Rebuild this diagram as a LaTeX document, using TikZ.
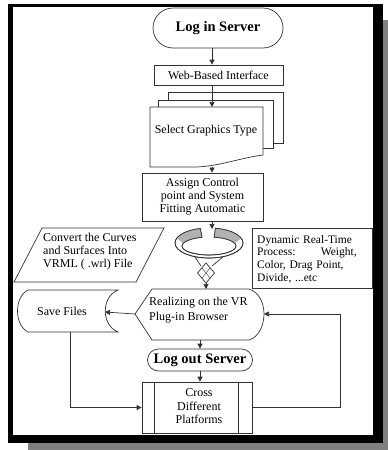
\documentclass[tikz,border=0pt]{standalone}
\usepackage{fontspec}
\setmainfont{Liberation Serif}
\usetikzlibrary{arrows.meta,calc}
\begin{document}
\begin{tikzpicture}[x=1pt,y=-1pt,
  ln/.style={draw=black!80,line width=0.7pt},
  arr/.style={ln,-{Triangle[length=5pt,width=5pt]}},
  tx/.style={font=\fontsize{12}{13}\selectfont,inner sep=0pt},
  hd/.style={font=\fontsize{14.5}{16}\selectfont\bfseries,inner sep=0pt},
  box/.style={ln,fill=white,inner sep=0pt}]
\useasboundingbox (0,0) rectangle (388,450);
% frame
\fill[black!50] (383,20) rectangle (388,450);
\fill[black!50] (28,443) rectangle (388,450);
\fill[black] (8,4) rectangle (383,7);
\fill[black] (8,4) rectangle (13,443);
\fill[black] (373,4) rectangle (383,443);
\fill[black] (8,435) rectangle (383,443);
% Log in
\node[box,rounded corners=20pt,minimum width=130pt,minimum height=40pt,hd] (login) at (218,28) {Log in Server};
\node[box,minimum width=129pt,minimum height=20pt,tx] (web) at (218.5,75) {Web-Based Interface};
% multi document
\draw[ln,fill=white] (168,92) rectangle (283,143);
\draw[ln,fill=white] (158,100) rectangle (273,148);
\draw[ln,fill=white] (150,107) -- (263,107) -- (263,155) .. controls (240,158) and (220,166) .. (197,167) -- (150,167) -- cycle;
\node[tx] (select) at (206,131) {Select Graphics Type};
\coordinate (selT) at (212,107);
\coordinate (selB) at (212,166.5);
% assign
\node[box,minimum width=121pt,minimum height=48pt,tx,align=center] (assign) at (202.5,197) {Assign Control\\point and System\\Fitting Automatic};
% ring
\path[ln,fill=white] ([shift={(209,243)}]281:34 and 15) arc[start angle=281,end angle=615,x radius=34,y radius=15]
  -- ([shift={(209,246)}]255:27 and 9) arc[start angle=615,end angle=281,x radius=27,y radius=9] -- cycle;
\fill[black!30] ([shift={(209,243)}]198:34 and 15) arc[start angle=198,end angle=255,x radius=34,y radius=15]
  -- ([shift={(209,246)}]255:27 and 9) arc[start angle=255,end angle=198,x radius=27,y radius=9] -- cycle;
\fill[black!30] ([shift={(209,243)}]281:34 and 15) arc[start angle=281,end angle=342,x radius=34,y radius=15]
  -- ([shift={(209,246)}]342:27 and 9) arc[start angle=342,end angle=281,x radius=27,y radius=9] -- cycle;
\path[ln] ([shift={(209,243)}]281:34 and 15) arc[start angle=281,end angle=615,x radius=34,y radius=15]
  -- ([shift={(209,246)}]255:27 and 9) arc[start angle=615,end angle=281,x radius=27,y radius=9] -- cycle;
\coordinate (ringT) at (212,229);
\draw[ln] ([shift={(209,243)}]115:34 and 15) -- (201,266);
\draw[ln] ([shift={(209,243)}]65:34 and 15) -- (212,266);
\draw[ln,fill=white] (206,263) -- (214.5,273) -- (206,283) -- (197.5,273) -- cycle;
\draw[ln,line width=0.4pt] (202,268) -- (210,278) (210,268) -- (202,278);
\coordinate (knotB) at (206,283);
% convert
\draw[ln,fill=white] (42,228) -- (164,228) -- (136,282) -- (14,282) -- cycle;
\node[tx,anchor=north west,align=left] (conv) at (43,233) {Convert the Curves\\and Surfaces Into\\VRML ( .wrl) File};
% dynamic
\node[box,minimum width=120pt,minimum height=60pt] (dyn) at (312,258) {};
\node[tx,font=\fontsize{11.5}{12.7}\selectfont,anchor=north west,align=left,text width=110pt] (dyntx) at (257,235) {Dynamic Real-Time\\Process:\hspace{2.2em}Weight,\\Color, Drag Point,\\Divide, ...etc};
% save files
\draw[ln,fill=white] (28,290) -- (118,290) .. controls (101,297) and (101,325) .. (118,332) -- (28,332) .. controls (14,325) and (14,297) .. (28,290) -- cycle;
\node[tx] (save) at (62,311) {Save Files};
\coordinate (saveR) at (105,312);
\coordinate (saveB) at (70,332);
% realizing
\draw[ln,fill=white] (135,314) -- (152,289) -- (249,289) .. controls (259,292) and (264,303) .. (264,314) .. controls (264,325) and (259,337) .. (249,340) -- (152,340) -- cycle;
\node[tx,font=\fontsize{12}{15.5}\selectfont,anchor=west,align=left] (real) at (149,310) {Realizing on the VR\\Plug-in Browser};
\coordinate (realW) at (135,314);
\coordinate (realE) at (264,314);
\coordinate (realT) at (206,289);
\coordinate (realB) at (200,340);
\coordinate (rc) at (340,314);
% log out
\node[box,rounded corners=11pt,minimum width=105pt,minimum height=22pt,hd] (logout) at (200,360) {Log out Server};
% cross
\node[box,minimum width=110pt,minimum height=51pt] (cross) at (197,407.5) {};
\draw[ln] ([xshift=13pt]cross.north west) -- ([xshift=13pt]cross.south west);
\draw[ln] ([xshift=-14pt]cross.north east) -- ([xshift=-14pt]cross.south east);
\node[tx,font=\fontsize{12}{13.5}\selectfont,align=center] (crosstx) at (199,406.5) {Cross\\Different\\Platforms};
% connectors
\draw[arr] (login.south -| selT) -- (web.north -| selT);
\draw[arr] (web.south -| selT) -- (selT);
\draw[arr] (selB) -- (assign.north -| selT);
\draw[arr] (assign.south -| selT) -- (ringT);
\draw[arr] (knotB) -- (realT);
\draw[arr] (realW) -- (saveR);
\draw[arr] (saveB) |- (cross.west);
\draw[arr] (cross.east) -| (rc) -- (realE);
\draw[arr] (realB) -- (logout.north);
\draw[arr] (logout.south) -- (logout.south |- cross.north);
\end{tikzpicture}
\end{document}
